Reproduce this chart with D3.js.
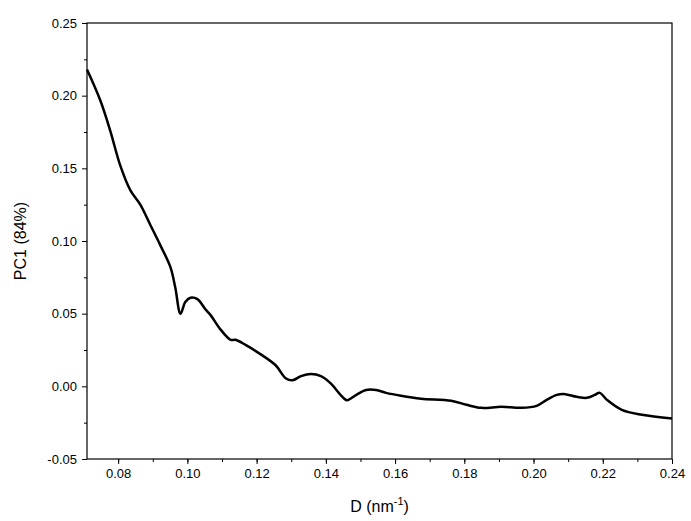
<!DOCTYPE html>
<meta charset="utf-8">
<html>
<body style="margin:0;background:#fff">
<script src="https://d3js.org/d3.v7.min.js"></script>
<script>
var xVals = [0.0710,0.0748,0.0777,0.0806,0.0835,0.0864,0.0893,0.0922,0.0951,0.0965,0.0980,0.0994,0.1009,0.1029,0.1052,0.1067,0.1096,0.1125,0.1139,0.1168,0.1212,0.1255,0.1284,0.1304,0.1328,0.1357,0.1386,0.1414,0.1443,0.1461,0.1487,0.1516,0.1545,0.1574,0.1617,0.1675,0.1762,0.1806,0.1849,0.1907,0.1965,0.2009,0.2038,0.2067,0.2087,0.2125,0.2154,0.2177,0.2191,0.2212,0.2255,0.2313,0.2400];
var yVals = [0.218,0.197,0.176,0.152,0.135,0.125,0.111,0.097,0.082,0.068,0.050,0.058,0.061,0.060,0.053,0.049,0.039,0.032,0.032,0.0285,0.022,0.0145,0.0056,0.0042,0.007,0.0085,0.007,0.002,-0.006,-0.0095,-0.006,-0.0025,-0.0025,-0.0045,-0.0065,-0.0085,-0.0099,-0.0127,-0.0148,-0.0141,-0.0148,-0.0134,-0.0093,-0.0059,-0.0052,-0.0072,-0.0079,-0.0059,-0.0045,-0.0093,-0.0162,-0.0196,-0.0222];
var xTicks = [0.08,0.10,0.12,0.14,0.16,0.18,0.20,0.22,0.24];
var yTicks = [-0.05,0.00,0.05,0.10,0.15,0.20,0.25];

var W = 691, H = 521, L = 87, R = 672, T = 23, B = 459;
var svg = d3.select("body").append("svg").attr("width", W).attr("height", H)
  .style("font-family", "Arial, 'Liberation Sans', sans-serif");
var x = d3.scaleLinear().domain([0.0710, 0.24]).range([L, R]);
var y = d3.scaleLinear().domain([-0.05, 0.25]).range([B, T]);
var fmt = function (v) { return d3.format(".2f")(v).replace("\u2212", "-"); };

// minor ticks
var xMinor = d3.range(0.07, 0.241, 0.01).filter(function (v) { return v >= 0.0710; });
var yMinor = d3.range(-0.025, 0.25, 0.05);

svg.append("g").attr("transform", "translate(0," + B + ")")
  .call(d3.axisBottom(x).tickValues(xTicks).tickFormat(fmt).tickSize(5).tickPadding(5));
svg.append("g").attr("transform", "translate(0," + B + ")")
  .call(d3.axisBottom(x).tickValues(xMinor).tickFormat("").tickSize(3));
svg.append("g").attr("transform", "translate(" + L + ",0)")
  .call(d3.axisLeft(y).tickValues(yTicks).tickFormat(fmt).tickSize(5).tickPadding(5));
svg.append("g").attr("transform", "translate(" + L + ",0)")
  .call(d3.axisLeft(y).tickValues(yMinor).tickFormat("").tickSize(3));
svg.selectAll(".domain").remove();
svg.selectAll(".tick text").style("font-size", "13px").attr("fill", "#000");
svg.selectAll(".tick line").attr("stroke", "#000");

svg.append("rect").attr("x", L).attr("y", T).attr("width", R - L).attr("height", B - T)
  .attr("fill", "none").attr("stroke", "#000").attr("stroke-width", 1.2);

var pts = xVals.map(function (v, i) { return [v, yVals[i]]; });
svg.append("path").datum(pts)
  .attr("fill", "none").attr("stroke", "#000").attr("stroke-width", 2.5)
  .attr("d", d3.line().x(function (d) { return x(d[0]); }).y(function (d) { return y(d[1]); }).curve(d3.curveCatmullRom));

svg.append("text").attr("transform", "translate(26," + ((T + B) / 2) + ") rotate(-90)")
  .attr("text-anchor", "middle").style("font-size", "16px").text("PC1 (84%)");
var xl = svg.append("text").attr("x", (L + R) / 2).attr("y", 512)
  .attr("text-anchor", "middle").style("font-size", "16px");
xl.append("tspan").text("D (nm");
xl.append("tspan").attr("dy", -7).style("font-size", "11px").text("-1");
xl.append("tspan").attr("dy", 7).text(")");
</script>
</body>
</html>
